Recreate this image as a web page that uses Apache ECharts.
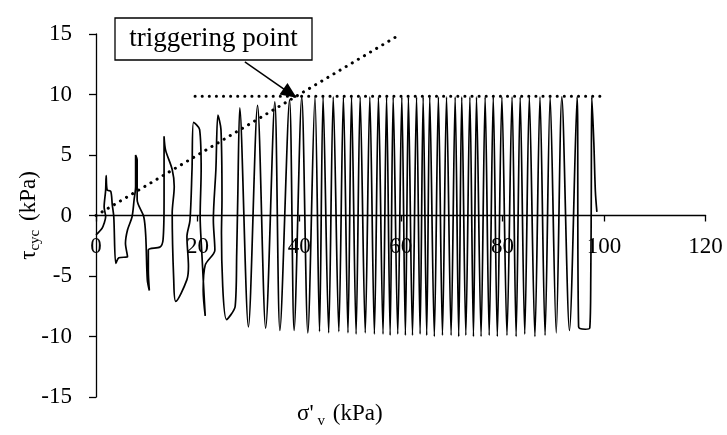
<!DOCTYPE html>
<html>
<head>
<meta charset="utf-8">
<script src="https://cdn.jsdelivr.net/npm/echarts@6/dist/echarts.min.js"></script>
<style>
  html, body { margin: 0; padding: 0; background: #fff; }
  #chart { width: 727px; height: 435px; }
</style>
</head>
<body>
<div id="chart"></div>
<script>
// axis ticks
const xTicks = [0, 20, 40, 60, 80, 100, 120];
const yTicks = [-15, -10, -5, 0, 5, 10, 15];

// first cycles on the left, read point by point (σ'v, τcyc)
const startPath = [
  [0.0, -1.6], [1.2, -1.05], [1.6, -0.65], [1.9, -0.1], [1.6, 0.7], [1.9, 2.1], [2.0, 3.3],
  [2.2, 2.1], [2.9, 2.0], [3.2, 0.9], [3.5, -0.1], [3.9, -3.95],
  [4.5, -3.5], [6.2, -3.4], [5.8, -2.3], [6.2, -1.2], [7.1, -0.1], [7.5, 1.3], [7.8, 2.4], [7.8, 5.0],
  [8.1, 4.6], [8.1, 1.3], [9.4, -0.1], [9.8, -1.75], [10.1, -5.3], [10.5, -6.2],
  [10.3, -4.5], [10.3, -2.85], [12.6, -2.6], [13.2, -2.0], [13.4, 1.3], [13.4, 6.5],
  [13.7, 5.4], [15.0, 3.8], [15.4, 2.4], [15.0, 0.2], [15.3, -5.3], [15.7, -7.1],
  [17.9, -5.3], [18.2, -4.2], [17.9, -1.75], [18.5, -0.4], [18.9, 3.8], [19.2, 7.7],
  [20.4, 7.1], [20.7, 3.8], [20.5, -0.1], [20.8, -2.85], [21.5, -8.3],
  [21.1, -6.2], [21.5, -4.1], [23.4, -2.85], [23.1, -0.4], [23.6, 3.8], [24.0, 8.3],
  [24.6, 7.1], [24.8, 1.3], [24.7, -1.5], [25.7, -8.6],
  [27.4, -7.5], [27.7, -3.1], [27.9, 1.3]
];

// later cycles: peaks and the trough that follows each one
const peakX = [28.3, 31.8, 35.2, 38.1, 40.5, 43.1, 44.7, 46.7, 48.7, 50.3, 52.0, 53.9, 55.6, 57.2, 58.5, 60.2, 61.5, 63.1,
  64.4, 65.7, 67.4, 69.0, 70.7, 72.0, 73.6, 74.9, 76.6, 78.2, 79.9, 81.9, 83.5, 85.3, 87.4, 89.4, 91.7, 94.7];
const peakY = [8.9, 9.1, 9.4, 9.55, 9.8, 9.8, 9.8, 9.8, 9.8, 9.8, 9.8, 9.8, 9.8, 9.8, 9.8, 9.8, 9.8, 9.8,
  9.8, 9.8, 9.8, 9.8, 9.8, 9.8, 9.8, 9.8, 9.8, 9.8, 9.8, 9.8, 9.8, 9.8, 9.8, 9.8, 9.8, 9.8];
const troughX = [30.0, 33.4, 36.2, 39.0, 41.7, 44.0, 45.8, 47.8, 49.6, 51.2, 53.0, 54.8, 56.5, 57.9, 59.4, 60.9, 62.3, 63.8,
  65.1, 66.6, 68.2, 69.9, 71.4, 72.8, 74.3, 75.8, 77.4, 79.0, 80.9, 82.7, 84.4, 86.4, 88.4, 90.6, 93.2];
const troughY = [-9.2, -9.3, -9.5, -9.5, -9.7, -9.6, -9.7, -9.6, -9.7, -9.8, -9.7, -9.8, -9.8, -9.9, -9.8, -9.9, -9.9, -9.8,
  -9.9, -10.0, -9.9, -9.9, -10.0, -9.9, -10.0, -10.0, -9.9, -10.0, -9.9, -10.0, -9.8, -10.0, -9.9, -9.7, -9.5];

// last, wider cycle on the right
const endPath = [[95.0, -9.2], [96.3, -9.4], [97.2, -9.3], [97.4, -5.0], [97.5, 2.0], [97.6, 9.8], [98.0, 6.0], [98.3, 2.0], [98.6, 0.3]];

// dotted reference lines
const triggerLine = [[0, 0], [60, 15]];
const limitLine = [[19.5, 9.85], [100, 9.85]];
const arrowFrom = [29.3, 12.7];
const arrowTo = [38.2, 10.1];

const path = startPath.slice();
for (let i = 0; i < peakX.length; i++) {
  path.push([peakX[i], peakY[i]]);
  if (i < troughX.length) path.push([troughX[i], troughY[i]]);
}
endPath.forEach(p => path.push(p));

const FONT = 'Liberation Serif';
const chart = echarts.init(document.getElementById('chart'));

const dotStyle = { color: '#000', width: 3, type: [0.1, 7], cap: 'round' };

// plot box: 363px tall for -15..15, so the zero line sits 181.5px above the bottom
const zeroShift = -181.5;

chart.setOption({
  animation: false,
  backgroundColor: '#fff',
  grid: { left: 96, right: 21.4, top: 34, bottom: 38, containLabel: false, outerBoundsMode: 'none' },
  xAxis: {
    type: 'value',
    min: 0, max: 120, interval: 20,
    offset: zeroShift,
    name: "σ'{s|v} (kPa)",
    nameLocation: 'middle',
    nameGap: 184,
    nameTextStyle: {
      fontFamily: FONT, fontSize: 23, color: '#000',
      padding: [0, 122, 0, 0],
      rich: { s: { fontFamily: FONT, fontSize: 15, color: '#000', padding: [14, 2, 0, 4] } }
    },
    axisLine: { onZero: false, lineStyle: { color: '#000', width: 1.3 } },
    axisTick: { show: true, length: 6, lineStyle: { color: '#000', width: 1.3 } },
    axisLabel: { fontFamily: FONT, fontSize: 23, color: '#000', margin: 20 },
    splitLine: { show: false }
  },
  yAxis: {
    type: 'value',
    min: -15, max: 15, interval: 5,
    name: 'τ{s|cyc} (kPa)',
    nameLocation: 'middle',
    nameGap: 53,
    nameMoveOverlap: false,
    nameTextStyle: {
      fontFamily: FONT, fontSize: 23, color: '#000',
      rich: { s: { fontFamily: FONT, fontSize: 15, color: '#000', padding: [14, 3, 0, 0] } }
    },
    axisLine: { onZero: false, lineStyle: { color: '#000', width: 1.3 } },
    axisTick: { show: true, length: 7, lineStyle: { color: '#000', width: 1.3 } },
    axisLabel: { fontFamily: FONT, fontSize: 23, color: '#000', margin: 24 },
    splitLine: { show: false }
  },
  series: [
    {
      name: 'stress path',
      type: 'line',
      data: path,
      symbol: 'none',
      smooth: 0.3,
      lineStyle: { color: '#000', width: 1.7 },
      z: 3
    },
    {
      name: 'triggering line',
      type: 'line',
      data: triggerLine,
      symbol: 'none',
      lineStyle: dotStyle,
      z: 2
    },
    {
      name: 'limit',
      type: 'line',
      data: limitLine,
      symbol: 'none',
      lineStyle: dotStyle,
      z: 2,
      markLine: {
        silent: true,
        symbol: ['none', 'triangle'],
        symbolSize: [14, 16],
        label: { show: false },
        lineStyle: { color: '#000', width: 1.5, type: 'solid' },
        data: [[{ coord: arrowFrom }, { coord: arrowTo }]]
      }
    }
  ],
  graphic: [
    {
      type: 'rect',
      shape: { x: 115, y: 18, width: 197, height: 42 },
      style: { fill: '#fff', stroke: '#000', lineWidth: 1.3 },
      z: 10
    },
    {
      type: 'text',
      x: 213.5, y: 39,
      style: {
        text: 'triggering point', fontFamily: FONT, fontSize: 27, fill: '#000',
        align: 'center', verticalAlign: 'middle'
      },
      z: 11
    }
  ]
});
</script>
</body>
</html>
